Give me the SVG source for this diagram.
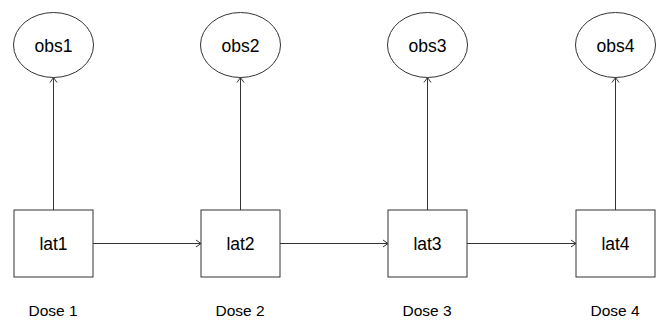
<svg xmlns="http://www.w3.org/2000/svg" width="660" height="320" viewBox="0 0 660 320">
<style>
.n{fill:#fff;stroke:#333;stroke-width:1}
.t{font-family:"Liberation Sans",Arial,sans-serif;font-size:17.5px;fill:#000;text-anchor:middle}
.d{font-family:"Liberation Sans",Arial,sans-serif;font-size:15.5px;fill:#000;text-anchor:middle}
.e{stroke:#333;stroke-width:1;fill:none;marker-end:url(#a)}
</style>
<defs>
<marker id="a" markerWidth="10" markerHeight="10" refX="8" refY="5" orient="auto" markerUnits="userSpaceOnUse">
<path d="M3,1.5 L8,5 L3,8.5" fill="none" stroke="#333" stroke-width="1"/>
</marker>
</defs>
<g id="connectors">
<line class="e" x1="53.5" y1="210" x2="53.5" y2="77.5"/>
<line class="e" x1="240.5" y1="210" x2="240.5" y2="77.5"/>
<line class="e" x1="427.5" y1="210" x2="427.5" y2="77.5"/>
<line class="e" x1="615.5" y1="210" x2="615.5" y2="77.5"/>
<line class="e" x1="93" y1="243.5" x2="201" y2="243.5"/>
<line class="e" x1="280" y1="243.5" x2="388" y2="243.5"/>
<line class="e" x1="467" y1="243.5" x2="576" y2="243.5"/>
</g>
<g id="obs1"><ellipse class="n" cx="53.5" cy="45" rx="40" ry="32.5"/><text class="t" x="53.5" y="52">obs1</text></g>
<g id="obs2"><ellipse class="n" cx="240.5" cy="45" rx="40" ry="32.5"/><text class="t" x="240.5" y="52">obs2</text></g>
<g id="obs3"><ellipse class="n" cx="427.5" cy="45" rx="40" ry="32.5"/><text class="t" x="427.5" y="52">obs3</text></g>
<g id="obs4"><ellipse class="n" cx="615.5" cy="45" rx="40" ry="32.5"/><text class="t" x="615.5" y="52">obs4</text></g>
<g id="lat1"><rect class="n" x="14" y="210" width="79" height="67"/><text class="t" x="53.5" y="250">lat1</text></g>
<g id="lat2"><rect class="n" x="201" y="210" width="79" height="67"/><text class="t" x="240.5" y="250">lat2</text></g>
<g id="lat3"><rect class="n" x="388" y="210" width="79" height="67"/><text class="t" x="427.5" y="250">lat3</text></g>
<g id="lat4"><rect class="n" x="576" y="210" width="79" height="67"/><text class="t" x="615.5" y="250">lat4</text></g>
<g id="dose1"><text class="d" x="53" y="316">Dose 1</text></g>
<g id="dose2"><text class="d" x="240" y="316">Dose 2</text></g>
<g id="dose3"><text class="d" x="427" y="316">Dose 3</text></g>
<g id="dose4"><text class="d" x="615" y="316">Dose 4</text></g>
</svg>
